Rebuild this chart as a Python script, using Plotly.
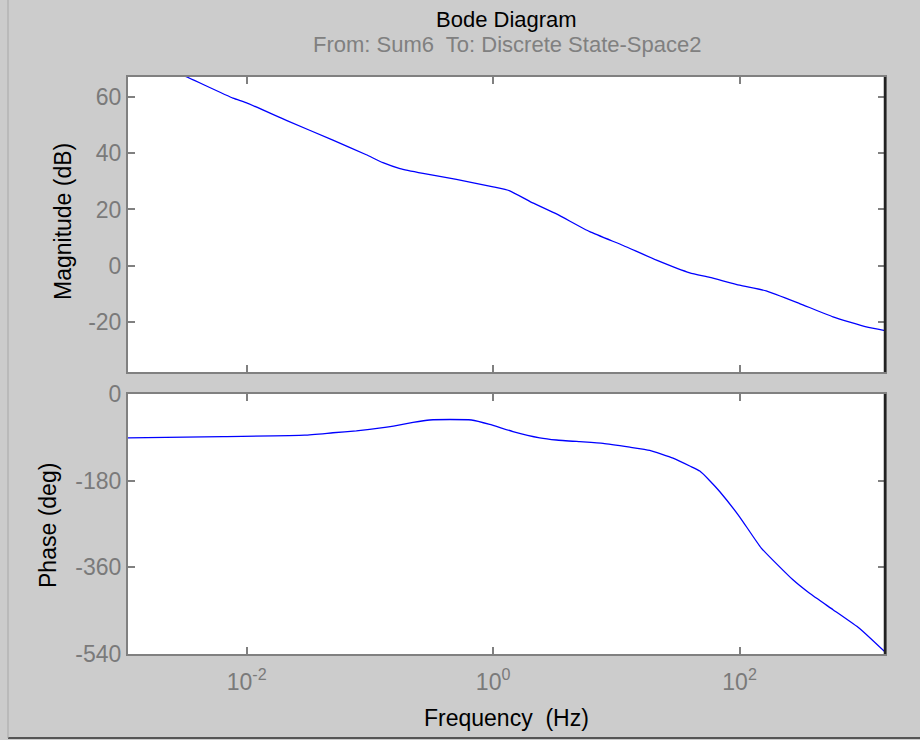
import plotly.graph_objects as go
from plotly.subplots import make_subplots

# ---- data (frequency in Hz) ----
mag_freq = [0.001089, 0.003273, 0.007745, 0.01, 0.02099, 0.05012, 0.09354, 0.1276,
            0.1754, 0.2698, 0.5035, 1.0, 1.365, 1.995, 3.266, 6.081, 11.35, 21.18,
            39.45, 57.28, 100.0, 164.4, 306.9, 572.8, 1067.0, 1514.0]
mag_db = [76.0, 67.0, 59.5, 57.8, 51.6, 44.6, 39.4, 36.6,
          34.5, 32.8, 30.7, 28.0, 26.6, 22.8, 18.4, 12.1, 7.2, 2.0,
          -2.5, -4.1, -6.9, -8.9, -13.4, -18.1, -21.7, -23.0]

phase_freq = [0.001089, 0.006427, 0.02958, 0.05012, 0.07762, 0.1276, 0.1754, 0.2239,
              0.3055, 0.4467, 0.6668, 0.9376, 1.449, 2.388, 3.266, 5.047, 7.798, 12.88,
              18.66, 28.84, 39.81, 47.53, 57.28, 69.18, 100.0, 150.0, 271.0, 369.8,
              572.8, 941.9, 1503.0]
phase_deg = [-91, -88.6, -85.5, -80.5, -76.5, -70, -64, -59,
             -54, -53, -54, -63, -78, -91, -95.5, -99, -102.5, -110.5,
             -117, -133, -150, -160, -180, -203, -255, -320, -386, -414,
             -448, -487, -535]

x_tickvals = [0.01, 1, 100]
x_ticktext = ["10<sup>-2</sup>", "10<sup>0</sup>", "10<sup>2</sup>"]
mag_ticks = [-20, 0, 20, 40, 60]
mag_ticktext = ["-20", "0", "20", "40", "60"]
phase_ticks = [-540, -360, -180, 0]
phase_ticktext = ["-540", "-360", "-180", "0"]

FONT = "Liberation Sans, Arial, sans-serif"
GRAY = "#808080"
BG = "#cccccc"

fig = make_subplots(rows=2, cols=1, shared_xaxes=False, vertical_spacing=0.04)

fig.add_trace(go.Scatter(x=mag_freq, y=mag_db, mode="lines",
                         line=dict(color="#0000ff", width=1.3, shape="spline", smoothing=0.4),
                         showlegend=False, cliponaxis=True), row=1, col=1)
fig.add_trace(go.Scatter(x=phase_freq, y=phase_deg, mode="lines",
                         line=dict(color="#0000ff", width=1.3, shape="spline", smoothing=0.4),
                         showlegend=False, cliponaxis=True), row=2, col=1)

xcommon = dict(type="log", range=[-2.963, 3.18], tickvals=x_tickvals, ticktext=x_ticktext,
               ticks="inside", ticklen=7, tickwidth=1.5, tickcolor=GRAY,
               showline=True, linecolor=GRAY, linewidth=2, mirror="ticks",
               showgrid=False, zeroline=False,
               tickfont=dict(family=FONT, size=23, color="#7a7a7a"))
ycommon = dict(ticks="inside", ticklen=7, tickwidth=1.5, tickcolor=GRAY,
               showline=True, linecolor=GRAY, linewidth=2, mirror="ticks",
               showgrid=False, zeroline=False,
               tickfont=dict(family=FONT, size=23, color="#7a7a7a"))

fig.update_xaxes(**xcommon, showticklabels=False, row=1, col=1)
fig.update_xaxes(**xcommon, showticklabels=True, ticklabelstandoff=6, row=2, col=1)
fig.update_yaxes(**ycommon, range=[-37.7, 67.0], tickvals=mag_ticks,
                 ticktext=mag_ticktext, row=1, col=1)
fig.update_yaxes(**ycommon, range=[-540, 0], tickvals=phase_ticks,
                 ticktext=phase_ticktext, row=2, col=1)

fig.update_layout(
    width=920, height=740,
    margin=dict(l=128, r=35, t=77, b=86),
    paper_bgcolor=BG, plot_bgcolor="white",
    xaxis=dict(domain=[0, 1]), xaxis2=dict(domain=[0, 1]),
    yaxis=dict(domain=[0.4887, 1.0]), yaxis2=dict(domain=[0.0, 0.4506]),
    font=dict(family=FONT),
)

annos = [
    dict(text="Bode Diagram", x=0.5, y=1.1005, font=dict(size=22, color="black")),
    dict(text="From: Sum6  To: Discrete State-Space2", x=0.5, y=1.0555,
         font=dict(size=22, color="#808080")),
    dict(text="Frequency  (Hz)", x=0.5, y=-0.1109, font=dict(size=23, color="black")),
    dict(text="Magnitude (dB)", x=-0.0859, y=0.7504, textangle=-90,
         font=dict(size=23, color="black")),
    dict(text="Phase (deg)", x=-0.1057, y=0.2236, textangle=-90,
         font=dict(size=23, color="black")),
]
for a in annos:
    fig.add_annotation(xref="paper", yref="paper", showarrow=False,
                       xanchor="center", yanchor="middle", font_family=FONT, **a)

# dark right edge of each axes box
for yr in ["y domain", "y2 domain"]:
    xr = "x domain" if yr == "y domain" else "x2 domain"
    fig.add_shape(type="line", xref=xr, yref=yr, x0=1, x1=1, y0=0, y1=1,
                  line=dict(color="#222222", width=2.5))
# window border lines
fig.add_shape(type="line", xref="paper", yref="paper", x0=-0.1585, x1=1.05,
              y0=-0.1456, y1=-0.1456, line=dict(color="#555555", width=2))
fig.add_shape(type="line", xref="paper", yref="paper", x0=-0.1585, x1=-0.1585,
              y0=-0.1456, y1=1.14, line=dict(color="#a8a8a8", width=1))

fig.write_html("out.html")
